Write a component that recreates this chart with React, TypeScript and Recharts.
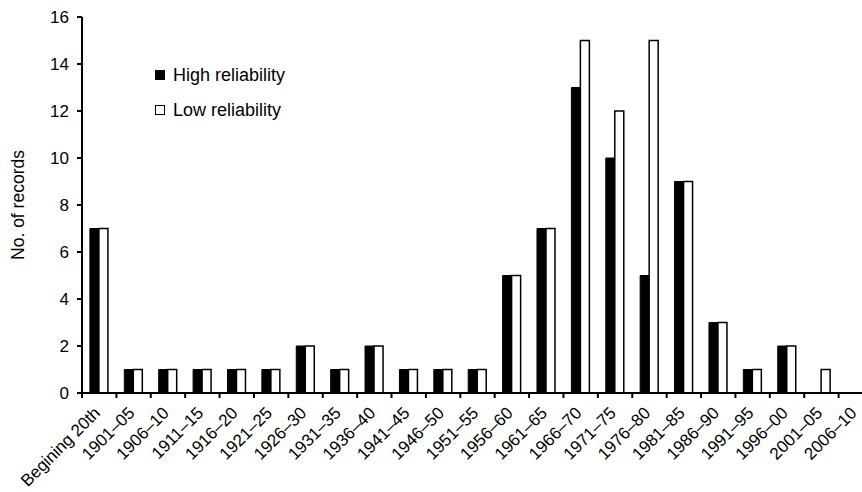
import React from 'react';
import { BarChart, Bar, XAxis, YAxis } from 'recharts';

const periods = [
  'Begining 20th', '1901–05', '1906–10', '1911–15', '1916–20', '1921–25', '1926–30',
  '1931–35', '1936–40', '1941–45', '1946–50', '1951–55', '1956–60', '1961–65',
  '1966–70', '1971–75', '1976–80', '1981–85', '1986–90', '1991–95', '1996–00',
  '2001–05', '2006–10',
];
const highReliability = [7, 1, 1, 1, 1, 1, 2, 1, 2, 1, 1, 1, 5, 7, 13, 10, 5, 9, 3, 1, 2, 0, 0];
const lowReliability = [7, 1, 1, 1, 1, 1, 2, 1, 2, 1, 1, 1, 5, 7, 15, 12, 15, 9, 3, 1, 2, 1, 0];
const yTicks = [0, 2, 4, 6, 8, 10, 12, 14, 16];

const data = periods.map((name, i) => ({
  name,
  high: highReliability[i],
  low: lowReliability[i],
}));

const CHART_W = 880;
const CHART_H = 492;
const Y_AXIS_W = 82;
const RIGHT = 7;
const BAND = (CHART_W - Y_AXIS_W - RIGHT) / periods.length;
const FONT = 'Liberation Sans, Arial, sans-serif';

const XTick = (props: any) => {
  const { x, y, payload } = props;
  const left = x - BAND / 2;
  return (
    <g>
      <line x1={left} y1={y - 8} x2={left} y2={y - 3} stroke="#000" strokeWidth={2} />
      <text
        x={x + 2}
        y={y + 13}
        textAnchor="end"
        fontSize={17}
        fontFamily={FONT}
        fill="#000"
        transform={`rotate(-45 ${x + 2} ${y + 13})`}
      >
        {payload.value}
      </text>
    </g>
  );
};

const LegendBox = () => (
  <div style={{ position: 'absolute', left: 155, top: 65, fontFamily: FONT, fontSize: 18, color: '#000', lineHeight: '20px' }}>
    <div style={{ display: 'flex', alignItems: 'center', marginBottom: 15 }}>
      <span style={{ width: 8, height: 8, background: '#000', border: '1px solid #000', marginRight: 8 }} />
      High reliability
    </div>
    <div style={{ display: 'flex', alignItems: 'center' }}>
      <span style={{ width: 8, height: 8, background: '#fff', border: '1px solid #000', marginRight: 8 }} />
      Low reliability
    </div>
  </div>
);

export default function App() {
  return (
    <div style={{ position: 'absolute', left: 0, top: 0, width: 862, height: 492, overflow: 'hidden', background: '#fff' }}>
      <BarChart
        width={CHART_W}
        height={CHART_H}
        data={data}
        margin={{ top: 17, right: RIGHT, left: 0, bottom: 0 }}
        barCategoryGap="23%"
        barGap={0}
      >
        <XAxis
          dataKey="name"
          interval={0}
          height={99}
          tickLine={false}
          axisLine={{ stroke: '#000', strokeWidth: 2 }}
          tick={<XTick />}
        />
        <YAxis
          width={Y_AXIS_W}
          domain={[0, 16]}
          ticks={yTicks}
          interval={0}
          axisLine={{ stroke: '#000', strokeWidth: 2 }}
          tickLine={{ stroke: '#000', strokeWidth: 2 }}
          tickSize={5}
          tickMargin={8}
          tick={{ fill: '#000', fontSize: 17, fontFamily: FONT }}
          label={{
            value: 'No. of records',
            angle: -90,
            position: 'insideLeft',
            offset: 18,
            style: { textAnchor: 'middle', fill: '#000', fontSize: 17.5, fontFamily: FONT },
          }}
        />
        <Bar dataKey="high" name="High reliability" fill="#000" stroke="#000" strokeWidth={1} isAnimationActive={false} />
        <Bar dataKey="low" name="Low reliability" fill="#fff" stroke="#000" strokeWidth={1.5} isAnimationActive={false} />
      </BarChart>
      <LegendBox />
    </div>
  );
}
